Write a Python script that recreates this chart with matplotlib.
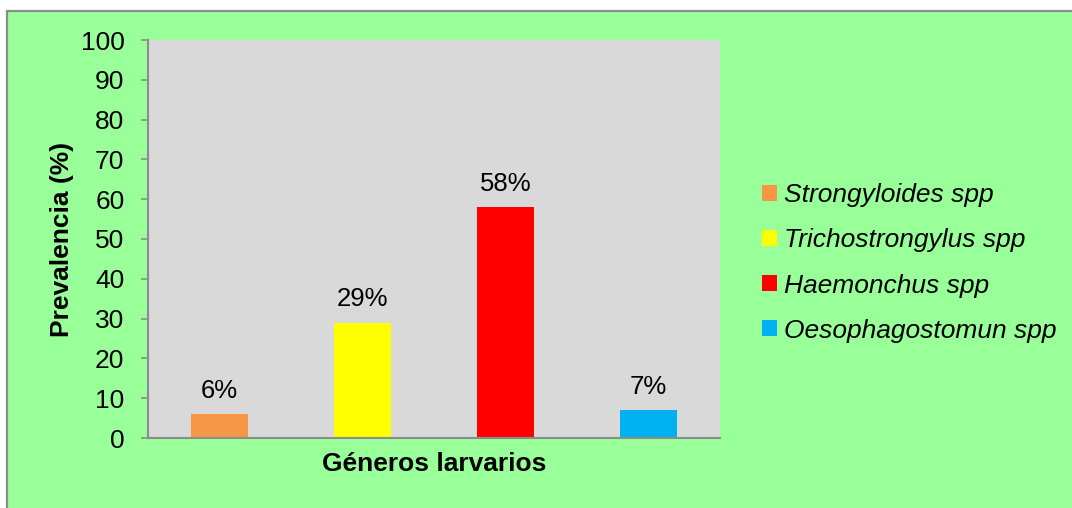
import matplotlib
matplotlib.use('Agg')
import matplotlib.pyplot as plt
from matplotlib.patches import Rectangle, Patch

plt.rcParams['font.family'] = ['Liberation Sans', 'DejaVu Sans']

generos = ['Strongyloides spp', 'Trichostrongylus spp', 'Haemonchus spp', 'Oesophagostomun spp']
prevalencia = [6, 29, 58, 7]
colores = ['#F79646', '#FFFF00', '#FF0000', '#00B0F0']
yticks = [0, 10, 20, 30, 40, 50, 60, 70, 80, 90, 100]

fig = plt.figure(figsize=(10.72, 5.08), dpi=100)
fig.patch.set_facecolor('white')

# green chart area with a gray border, kept behind the axes
fig.patches.append(Rectangle((7 / 1072, -0.05), 1.1, 1 - 11 / 508 + 0.05,
                             transform=fig.transFigure, facecolor='#99FF99',
                             edgecolor='#8C8C8C', linewidth=1.6, zorder=-10))

ax = fig.add_axes([148 / 1072, 70 / 508, 572 / 1072, 398 / 508])
ax.set_facecolor('#D9D9D9')

x = range(len(generos))
bars = ax.bar(x, prevalencia, width=0.4, color=colores, label=generos, zorder=2)

for xi, v in zip(x, prevalencia):
    ax.annotate(f'{v}%', (xi, v), xytext=(0, 17), textcoords='offset points',
                ha='center', va='center', fontsize=18.5)

ax.set_xlim(-0.5, 3.5)
ax.set_ylim(0, 100)
ax.set_yticks(yticks)
ax.set_xticks([])
ax.tick_params(axis='y', length=5, width=1.2, color='#8C8C8C', pad=12, labelsize=19)

for side in ['top', 'right']:
    ax.spines[side].set_visible(False)
for side in ['left', 'bottom']:
    ax.spines[side].set_color('#8C8C8C')
    ax.spines[side].set_linewidth(1.5)

ax.set_ylabel('Prevalencia (%)', fontsize=19, fontweight='bold')
ax.yaxis.set_label_coords(-0.13, 0.5)
ax.set_xlabel('Géneros larvarios', fontsize=19, fontweight='bold')
ax.xaxis.set_label_coords(0.5, -0.035)

handles = [Patch(facecolor=c, edgecolor='none') for c in colores]
fig.legend(handles, generos, loc='center left',
           bbox_to_anchor=(762 / 1072, 1 - 263 / 508), frameon=False,
           prop={'size': 19, 'style': 'italic'}, borderpad=0, borderaxespad=0,
           handlelength=0.55, handleheight=0.55, handletextpad=0.3,
           labelspacing=0.8)

fig.savefig('out.png', dpi=100, facecolor=fig.get_facecolor())
